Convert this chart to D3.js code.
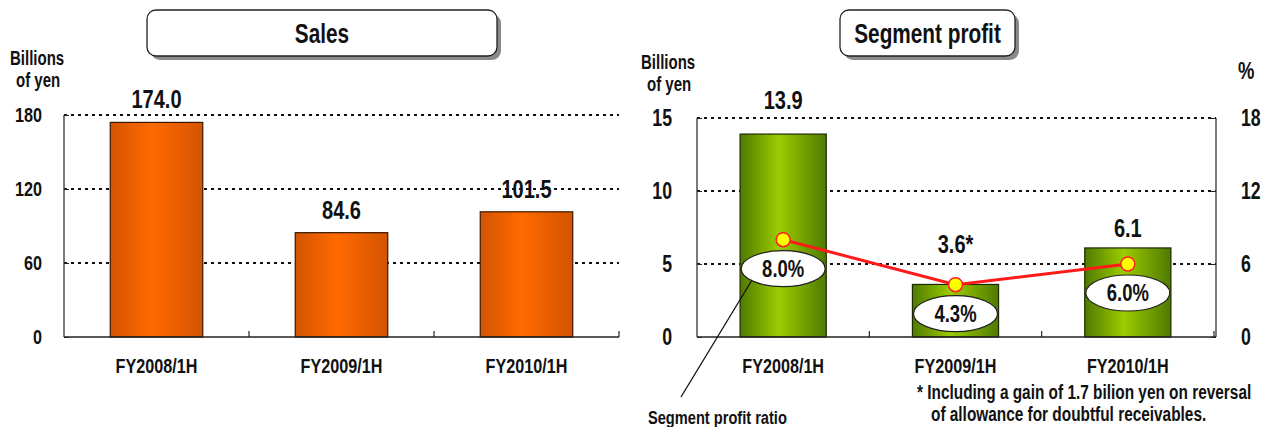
<!DOCTYPE html>
<html>
<head>
<meta charset="utf-8">
<script src="https://cdn.jsdelivr.net/npm/d3@7/dist/d3.min.js"></script>
<style>
  html, body { margin: 0; padding: 0; background: #fff; }
  svg text { font-family: "Liberation Sans", Arial, sans-serif; font-weight: bold; fill: #111; }
</style>
</head>
<body>
<svg id="chart" width="1264" height="427"></svg>
<script>
// Half-year results
const categories = ["FY2008/1H", "FY2009/1H", "FY2010/1H"];
const salesValues = [174.0, 84.6, 101.5];
const salesLabels = ["174.0", "84.6", "101.5"];
const salesTicks = [0, 60, 120, 180];

const profitValues = [13.9, 3.6, 6.1];
const profitLabels = ["13.9", "3.6*", "6.1"];
const profitTicks = [0, 5, 10, 15];

const ratioValues = [8.0, 4.3, 6.0];
const ratioLabels = ["8.0%", "4.3%", "6.0%"];
const ratioTicks = [0, 6, 12, 18];

// horizontal squeeze that gives the condensed lettering
const SQ = 0.77;

const svg = d3.select("#chart");
const defs = svg.append("defs");

// condensed text placed at (x, y)
function label(parent, x, y, str, size, anchor) {
  return parent.append("text")
    .attr("transform", `translate(${x},${y}) scale(${SQ},1)`)
    .attr("text-anchor", anchor || "start")
    .style("font-size", size + "px")
    .text(str);
}

// squeeze axis tick labels in place
function condenseTicks(axisG, size) {
  axisG.selectAll(".tick text").each(function () {
    const t = d3.select(this);
    const x = +t.attr("x") || 0;
    t.attr("x", 0).attr("transform", `translate(${x},0) scale(${SQ},1)`)
      .style("font-size", size + "px").style("font-family", null).attr("fill", "#111");
  });
}

function barGradient(id, edge, mid) {
  const g = defs.append("linearGradient").attr("id", id)
    .attr("x1", "0%").attr("x2", "100%").attr("y1", "0%").attr("y2", "0%");
  g.append("stop").attr("offset", "0%").attr("stop-color", edge);
  g.append("stop").attr("offset", "45%").attr("stop-color", mid);
  g.append("stop").attr("offset", "100%").attr("stop-color", edge);
}
barGradient("orangeGrad", "#d35400", "#ff6a00");
barGradient("greenGrad", "#4f7a00", "#9ccc00");

// Rounded title box with drop shadow
function titleBox(x, y, w, h, text) {
  svg.append("rect").attr("x", x + 4).attr("y", y + 4).attr("width", w).attr("height", h)
    .attr("rx", 9).attr("fill", "#8a8a8a");
  svg.append("rect").attr("x", x).attr("y", y).attr("width", w).attr("height", h)
    .attr("rx", 9).attr("fill", "#fff").attr("stroke", "#222").attr("stroke-width", 1.3);
  label(svg, x + w / 2, y + h / 2 + 10, text, 27, "middle");
}

function gridLines(g, scale, ticks, x0, x1) {
  g.selectAll(null).data(ticks.filter(t => t > 0)).join("line")
    .attr("x1", x0).attr("x2", x1)
    .attr("y1", d => scale(d)).attr("y2", d => scale(d))
    .attr("stroke", "#111").attr("stroke-width", 2).attr("stroke-dasharray", "3,4");
}

// small upward ticks between the categories
function categoryTicks(g, xs, y0) {
  const r0 = xs.range()[0];
  g.selectAll(null).data(categories.map((c, i) => r0 + (i + 1) * xs.step())).join("line")
    .attr("x1", d => d).attr("x2", d => d).attr("y1", y0).attr("y2", y0 - 6)
    .attr("stroke", "#222").attr("stroke-width", 1.2);
}

/* ---------------- Sales ---------------- */
titleBox(147, 10, 350, 46, "Sales");

const xS = d3.scaleBand().domain(categories).range([64, 619]).paddingInner(0.5).paddingOuter(0.25);
const yS = d3.scaleLinear().domain([0, 180]).range([337, 115]);
const gS = svg.append("g");

gridLines(gS, yS, salesTicks, 64, 619);

gS.selectAll("rect.bar").data(salesValues).join("rect").attr("class", "bar")
  .attr("x", (d, i) => xS(categories[i])).attr("width", xS.bandwidth())
  .attr("y", d => yS(d)).attr("height", d => yS(0) - yS(d))
  .attr("fill", "url(#orangeGrad)").attr("stroke", "#3a1800").attr("stroke-width", 1.2);

const axS = gS.append("g").attr("transform", "translate(64,0)")
  .call(d3.axisLeft(yS).tickValues(salesTicks).tickSize(5).tickPadding(17));
axS.select(".domain").attr("d", `M0,${yS(180)}V${yS(0)}`).attr("stroke", "#222").attr("stroke-width", 1.2);
axS.selectAll(".tick line").attr("x2", 5).attr("x1", 0).attr("stroke", "#222");
condenseTicks(axS, 21);

gS.append("line").attr("x1", 64).attr("x2", 619).attr("y1", yS(0)).attr("y2", yS(0))
  .attr("stroke", "#222").attr("stroke-width", 1.5);
categoryTicks(gS, xS, yS(0));

salesValues.forEach((v, i) =>
  label(gS, xS(categories[i]) + xS.bandwidth() / 2, yS(v) - 14, salesLabels[i], 26, "middle"));

categories.forEach(c => label(gS, xS(c) + xS.bandwidth() / 2, 373, c, 21, "middle"));

label(svg, 10, 65, "Billions", 19.5);
label(svg, 16, 87, "of yen", 19.5);

/* ---------------- Segment profit ---------------- */
titleBox(840, 10, 175, 46, "Segment profit");

const xP = d3.scaleBand().domain(categories).range([697, 1214]).paddingInner(0.5).paddingOuter(0.25);
const yP = d3.scaleLinear().domain([0, 15]).range([337, 118]);
const yR = d3.scaleLinear().domain([0, 18]).range([337, 118]);
const gP = svg.append("g");

gridLines(gP, yP, profitTicks, 697, 1216);

gP.selectAll("rect.bar").data(profitValues).join("rect").attr("class", "bar")
  .attr("x", (d, i) => xP(categories[i])).attr("width", xP.bandwidth())
  .attr("y", d => yP(d)).attr("height", d => yP(0) - yP(d))
  .attr("fill", "url(#greenGrad)").attr("stroke", "#1e2a00").attr("stroke-width", 1.2);

const axL = gP.append("g").attr("transform", "translate(697,0)")
  .call(d3.axisLeft(yP).tickValues(profitTicks).tickSize(5).tickPadding(20));
axL.select(".domain").attr("d", `M0,${yP(15)}V${yP(0)}`).attr("stroke", "#222").attr("stroke-width", 1.2);
axL.selectAll(".tick line").attr("x2", 5).attr("x1", 0).attr("stroke", "#222");
condenseTicks(axL, 23);

const axR = gP.append("g").attr("transform", "translate(1216,0)")
  .call(d3.axisRight(yR).tickValues(ratioTicks).tickSize(5).tickPadding(20));
axR.select(".domain").attr("d", `M0,${yR(18)}V${yR(0)}`).attr("stroke", "#222").attr("stroke-width", 1.2);
axR.selectAll(".tick line").attr("x2", -5).attr("x1", 0).attr("stroke", "#222");
condenseTicks(axR, 23);

gP.append("line").attr("x1", 697).attr("x2", 1216).attr("y1", yP(0)).attr("y2", yP(0))
  .attr("stroke", "#222").attr("stroke-width", 1.5);
categoryTicks(gP, xP, yP(0));

const cx = (c) => xP(c) + xP.bandwidth() / 2;

// value labels sit clear of the ratio line
const profitLabelLift = [25, 31, 11];
profitValues.forEach((v, i) =>
  label(gP, cx(categories[i]), yP(v) - profitLabelLift[i], profitLabels[i], 26, "middle"));

categories.forEach(c => label(gP, cx(c), 373, c, 21, "middle"));

// leader from the first ratio bubble to its caption
gP.append("line").attr("x1", 681).attr("y1", 397).attr("x2", 752).attr("y2", 280)
  .attr("stroke", "#111").attr("stroke-width", 1.3);

// ratio bubbles
const bubbleDrop = 29;
gP.selectAll("ellipse.bub").data(ratioValues).join("ellipse").attr("class", "bub")
  .attr("cx", (d, i) => cx(categories[i])).attr("cy", d => yR(d) + bubbleDrop)
  .attr("rx", 42).attr("ry", 18)
  .attr("fill", "#fff").attr("stroke", "#222").attr("stroke-width", 1.2);
ratioValues.forEach((v, i) =>
  label(gP, cx(categories[i]), yR(v) + bubbleDrop + 8, ratioLabels[i], 24, "middle"));

// ratio line with markers
const line = d3.line().x((d, i) => cx(categories[i])).y(d => yR(d));
gP.append("path").datum(ratioValues).attr("d", line)
  .attr("fill", "none").attr("stroke", "#ff1a1a").attr("stroke-width", 3);
gP.selectAll("circle.pt").data(ratioValues).join("circle").attr("class", "pt")
  .attr("cx", (d, i) => cx(categories[i])).attr("cy", d => yR(d)).attr("r", 7)
  .attr("fill", "#ffff00").attr("stroke", "#ff2020").attr("stroke-width", 1.5);

label(svg, 641, 69, "Billions", 19.5);
label(svg, 647, 91, "of yen", 19.5);
label(svg, 1238, 79, "%", 24);

label(svg, 648, 424, "Segment profit ratio", 19);
label(svg, 917, 399, "* Including a gain of 1.7 bilion yen on reversal", 20);
label(svg, 931, 421, "of allowance for doubtful receivables.", 20);
</script>
</body>
</html>
